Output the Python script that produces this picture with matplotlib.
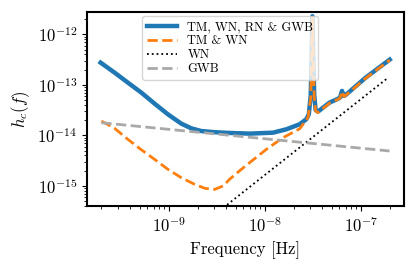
import numpy as np
import matplotlib
matplotlib.use("Agg")
import matplotlib.pyplot as plt

plt.rcParams["font.family"] = "serif"
plt.rcParams["font.serif"] = ["cmr10"]
plt.rcParams["mathtext.fontset"] = "cm"
plt.rcParams["axes.formatter.use_mathtext"] = True
plt.rcParams["axes.unicode_minus"] = False
plt.rcParams["font.size"] = 12

# values as log10(frequency), log10(h_c)
logf_total = [-9.708, -9.5625, -9.424, -9.284, -9.146, -9.007, -8.868, -8.764, -8.659, -8.539,
              -8.40, -8.156, -7.913, -7.774, -7.635, -7.566, -7.54, -7.52, -7.503, -7.484,
              -7.469, -7.445, -7.323, -7.24, -7.215, -7.195, -7.175, -7.156, -6.95, -6.698]
logh_total = [-12.56, -12.758, -12.956, -13.154, -13.372, -13.584, -13.768, -13.861, -13.915, -13.935,
              -13.95, -13.966, -13.947, -13.88, -13.78, -13.68, -13.58, -13.2, -11.64, -13.2,
              -13.5, -13.53, -13.35, -13.28, -13.25, -13.12, -13.22, -13.2, -12.86, -12.50]

logf_tmwn = [-9.70, -9.5625, -9.424, -9.284, -9.146, -9.007, -8.868, -8.729, -8.62, -8.52,
             -8.43, -8.365, -8.26, -8.156, -7.982, -7.809, -7.635, -7.549, -7.52, -7.503,
             -7.484, -7.469, -7.445, -7.323, -7.24, -7.215, -7.195, -7.175, -7.156, -6.95, -6.698]
logh_tmwn = [-13.717, -13.86, -14.079, -14.285, -14.475, -14.673, -14.838, -14.97, -15.05, -15.07,
             -15.0, -14.87, -14.70, -14.54, -14.277, -14.046, -13.87, -13.65, -13.25, -11.66,
             -13.25, -13.52, -13.55, -13.36, -13.29, -13.26, -13.13, -13.23, -13.21, -12.87, -12.51]

logf_wn = [-9.70, -6.716]
logh_wn = [-17.34, -12.86]

logf_gwb = [-9.70, -6.70]
logh_gwb = [-13.75, -14.31]

fig, ax = plt.subplots(figsize=(4.16, 2.69), dpi=100)
fig.subplots_adjust(left=0.209, right=0.971, top=0.955, bottom=0.234)

ax.loglog(10**np.array(logf_total), 10**np.array(logh_total), color="C0", lw=3.2,
          label="TM, WN, RN & GWB")
ax.loglog(10**np.array(logf_tmwn), 10**np.array(logh_tmwn), color="C1", lw=2, ls="--",
          label="TM & WN")
ax.loglog(10**np.array(logf_wn), 10**np.array(logh_wn), color="k", lw=1.3, ls=":",
          label="WN")
ax.loglog(10**np.array(logf_gwb), 10**np.array(logh_gwb), color="darkgray", lw=2, ls="--",
          label="GWB")

ax.set_xlim(10**-9.85, 10**-6.55)
ax.set_ylim(10**-15.40, 10**-11.56)
ax.set_xlabel("Frequency [Hz]")
ax.set_ylabel("$h_c(f)$")
for s in ax.spines.values():
    s.set_linewidth(1.5)
ax.legend(loc="upper left", bbox_to_anchor=(0.163, 1.0), borderaxespad=0.3,
          fontsize=9, labelspacing=0.15, handlelength=2.4)

plt.savefig("out.png")
